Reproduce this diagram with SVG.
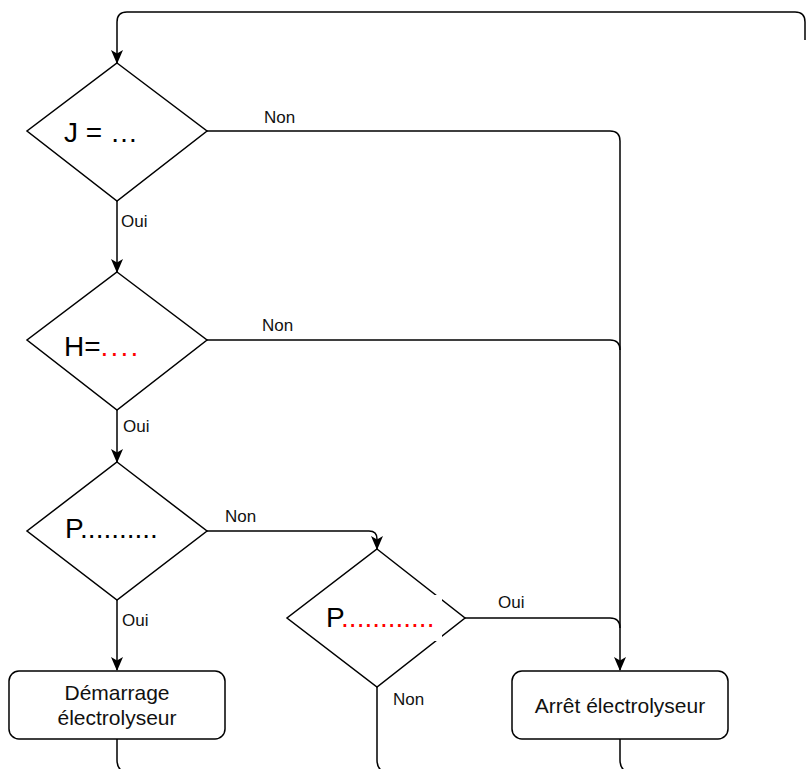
<svg xmlns="http://www.w3.org/2000/svg" width="806" height="769" viewBox="0 0 806 769">
<defs>
<style>
.ln{fill:none;stroke:#000;stroke-width:1.5}
.sh{fill:#fff;stroke:#000;stroke-width:1.5}
.big{font-family:"Liberation Sans",Arial,sans-serif;font-size:28px;fill:#000}
.lb{font-family:"Liberation Sans",Arial,sans-serif;font-size:17px;fill:#111}
.bx{font-family:"Liberation Sans",Arial,sans-serif;font-size:21px;fill:#111;text-anchor:middle}
.red{fill:#ff0000}
</style>
<marker id="ar" viewBox="0 0 14 12" refX="13" refY="6" markerWidth="14" markerHeight="12" markerUnits="userSpaceOnUse" orient="auto">
<path d="M0,0 L14,6 L0,12 L3.5,6 Z" fill="#000"/>
</marker>
</defs>
<rect width="806" height="769" fill="#fff"/>
<g id="connectors">
<path class="ln" d="M805,40 V22 Q805,12 795,12 H127 Q117,12 117,22 V63" marker-end="url(#ar)"/>
<path class="ln" d="M207,131 H610 Q620,131 620,141 V670" marker-end="url(#ar)"/>
<path class="ln" d="M117,201 V272" marker-end="url(#ar)"/>
<path class="ln" d="M207,340 H610 Q620,340 620,350"/>
<path class="ln" d="M117,410 V462" marker-end="url(#ar)"/>
<path class="ln" d="M207,531 H369 Q377,531 377,539 V549" marker-end="url(#ar)"/>
<path class="ln" d="M117,600 V670" marker-end="url(#ar)"/>
<path class="ln" d="M465,618 H610 Q620,618 620,628"/>
<path class="ln" d="M377,687 V760 Q377,769 384,772"/>
<path class="ln" d="M117,739 V760 Q117,769 124,772"/>
<path class="ln" d="M620,739 V760 Q620,769 627,772"/>
<text class="lb" x="264" y="123">Non</text>
<text class="lb" x="121" y="227">Oui</text>
<text class="lb" x="262" y="331">Non</text>
<text class="lb" x="123" y="432">Oui</text>
<text class="lb" x="225" y="522">Non</text>
<text class="lb" x="122" y="626">Oui</text>
<text class="lb" x="498" y="608">Oui</text>
<text class="lb" x="393" y="705">Non</text>
</g>
<g id="d1">
<path class="sh" d="M117,63 L207,131 L117,201 L27,131 Z"/>
<text class="big" x="64" y="142" font-size="29">J = …</text>
</g>
<g id="d2">
<path class="sh" d="M117,272 L207,340 L117,410 L27,340 Z"/>
<text class="big" x="64" y="356">H=<tspan class="red" letter-spacing="2.2">....</tspan></text>
</g>
<g id="d3">
<path class="sh" d="M117,462 L207,531 L117,600 L27,531 Z"/>
<text class="big" x="65" y="538">P..........</text>
</g>
<g id="d4">
<path class="sh" d="M377,549 L465,618 L377,687 L287,618 Z"/>
<rect x="325" y="595" width="117" height="46" fill="#fff"/>
<text class="big" x="326" y="627">P<tspan class="red">............</tspan></text>
</g>
<g id="start">
<rect class="sh" x="9" y="671" width="216" height="68" rx="10"/>
<text class="bx" x="117" y="700">Démarrage</text>
<text class="bx" x="117" y="725">électrolyseur</text>
</g>
<g id="stop">
<rect class="sh" x="512" y="671" width="216" height="68" rx="10"/>
<text class="bx" x="620" y="713">Arrêt électrolyseur</text>
</g>
</svg>
